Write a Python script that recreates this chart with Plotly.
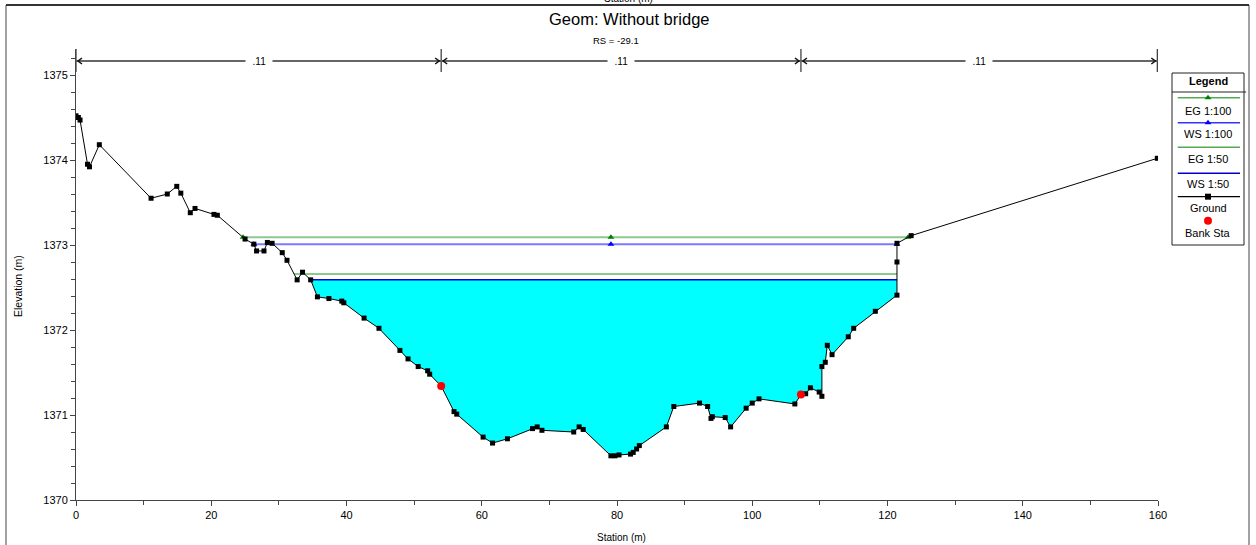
import numpy as np
import plotly.graph_objects as go

# ---------------- data ----------------
station = [0.0, 0.35, 0.6, 1.7, 2.0, 3.45, 11.1, 13.5, 14.9, 15.5, 16.9, 17.6, 20.4, 20.9,
           25.0, 26.3, 26.7, 27.8, 28.3, 29.0, 30.5, 31.2, 32.7, 33.5, 34.7, 35.7, 37.4,
           39.3, 39.6, 42.6, 44.8, 47.9, 49.1, 50.6, 52.0, 52.3, 54.0, 55.9, 56.3, 60.2,
           61.6, 63.8, 67.5, 68.2, 68.9, 73.6, 74.4, 75.0, 79.1, 79.7, 80.3, 82.0, 82.4,
           82.9, 83.3, 87.3, 88.4, 92.2, 93.4, 93.9, 94.1, 96.0, 96.8, 99.1, 100.0, 101.0,
           106.3, 107.2, 107.9, 108.6, 109.9, 110.3, 110.3, 110.8, 111.1, 111.8, 114.2,
           115.0, 118.2, 121.4, 121.4, 121.4, 123.5, 159.9]
elevation = [1374.52, 1374.50, 1374.47, 1373.95, 1373.92, 1374.18, 1373.55, 1373.60, 1373.69,
             1373.61, 1373.38, 1373.43, 1373.36, 1373.35, 1373.07, 1373.01, 1372.93, 1372.93,
             1373.03, 1373.02, 1372.91, 1372.82, 1372.59, 1372.68, 1372.59, 1372.39, 1372.37,
             1372.34, 1372.32, 1372.14, 1372.02, 1371.76, 1371.66, 1371.57, 1371.52, 1371.48,
             1371.34, 1371.04, 1371.01, 1370.74, 1370.67, 1370.72, 1370.84, 1370.86, 1370.82,
             1370.80, 1370.86, 1370.83, 1370.52, 1370.52, 1370.53, 1370.54, 1370.56, 1370.60,
             1370.64, 1370.86, 1371.10, 1371.14, 1371.10, 1370.96, 1370.98, 1370.97, 1370.86,
             1371.08, 1371.14, 1371.19, 1371.13, 1371.24, 1371.25, 1371.32, 1371.27, 1371.22,
             1371.57, 1371.62, 1371.82, 1371.71, 1371.92, 1372.02, 1372.22, 1372.41, 1372.80,
             1373.02, 1373.11, 1374.02]
bank_station = [54.0, 107.2]
bank_elevation = [1371.34, 1371.24]

eg_100 = 1373.09
ws_100 = 1373.01
eg_50 = 1372.66
ws_50 = 1372.59

n_breaks = [0.0, 54.0, 107.2, 159.9]
n_labels = [".11", ".11", ".11"]

title_text = "Geom: Without bridge"
rs_text = "RS = -29.1"
x_title = "Station (m)"
y_title = "Elevation (m)"
x_ticks = [0, 20, 40, 60, 80, 100, 120, 140, 160]
y_ticks = [1370, 1371, 1372, 1373, 1374, 1375]
legend_names = ["EG 1:100", "WS 1:100", "EG 1:50", "WS 1:50", "Ground", "Bank Sta"]

# ---------------- layout helpers ----------------
W, H = 1256, 545
ML, MR, MT, MB = 76, 10, 49, 45
PW, PH = W - ML - MR, H - MT - MB
FONT = "Liberation Sans, Arial, sans-serif"


def px(x):
    return (x - ML) / PW


def py(y):
    return (H - MB - y) / PH


xs = np.array(station)
gs = np.array(elevation)


def wet_extent(E):
    left = right = None
    li = ri = 0
    for i in range(len(xs) - 1):
        if gs[i] >= E and gs[i + 1] < E:
            left = xs[i] + (gs[i] - E) / (gs[i] - gs[i + 1]) * (xs[i + 1] - xs[i])
            li = i
            break
    for i in range(len(xs) - 2, -1, -1):
        if gs[i] < E and gs[i + 1] >= E:
            right = xs[i] + (E - gs[i]) / (gs[i + 1] - gs[i]) * (xs[i + 1] - xs[i])
            ri = i
            break
    return left, li, right, ri


fig = go.Figure()

# water fill for WS 1:50
l50, li50, r50, ri50 = wet_extent(ws_50)
fx = [l50] + list(xs[li50 + 1:ri50 + 1]) + [r50]
fy = [ws_50] + list(np.minimum(gs[li50 + 1:ri50 + 1], ws_50)) + [ws_50]
fig.add_trace(go.Scatter(x=fx, y=fy, fill="toself", fillcolor="#00FFFF", mode="lines",
                         line=dict(width=0), hoverinfo="skip", showlegend=False))

thalweg_x = float(xs[int(np.argmin(gs))])

# EG 1:50
le, _, re, _ = wet_extent(eg_50)
fig.add_trace(go.Scatter(x=[le, re], y=[eg_50, eg_50], mode="lines",
                         line=dict(color="#8cc98c", width=2), showlegend=False))
# EG 1:100
le, _, re, _ = wet_extent(eg_100)
fig.add_trace(go.Scatter(x=[le, thalweg_x, re], y=[eg_100] * 3, mode="lines+markers",
                         line=dict(color="#8cc98c", width=2),
                         marker=dict(symbol="triangle-up", size=6, color="#008000"),
                         showlegend=False))
# WS 1:100
lw, _, rw, _ = wet_extent(ws_100)
fig.add_trace(go.Scatter(x=[lw, thalweg_x, rw], y=[ws_100] * 3, mode="lines+markers",
                         line=dict(color="#7b7bff", width=2),
                         marker=dict(symbol="triangle-up", size=6, color="#0000ff"),
                         showlegend=False))
# WS 1:50
fig.add_trace(go.Scatter(x=[l50, r50], y=[ws_50, ws_50], mode="lines",
                         line=dict(color="#0000dd", width=1.5), showlegend=False))
# Ground
fig.add_trace(go.Scatter(x=station, y=elevation, mode="lines+markers",
                         line=dict(color="black", width=1),
                         marker=dict(symbol="square", size=5, color="black"),
                         showlegend=False))
# Bank stations
fig.add_trace(go.Scatter(x=bank_station, y=bank_elevation, mode="markers",
                         marker=dict(symbol="circle", size=8, color="#ff0000"),
                         showlegend=False))

# ---------------- custom legend (axes x2/y2) ----------------
leg_line_y = [0.856, 0.711, 0.568, 0.417, 0.281]
leg_text_y = [0.781, 0.645, 0.498, 0.355, 0.213, 0.068]
leg_styles = [
    dict(color="#55aa55", width=1.5, marker="triangle-up", mcolor="#008000"),
    dict(color="#3333ff", width=1.5, marker="triangle-up", mcolor="#0000ff"),
    dict(color="#55aa55", width=1.5, marker=None, mcolor=None),
    dict(color="#0000cc", width=1.5, marker=None, mcolor=None),
    dict(color="black", width=1.2, marker="square", mcolor="black"),
]
for yv, st in zip(leg_line_y, leg_styles):
    fig.add_trace(go.Scatter(x=[0.08, 0.945], y=[yv, yv], mode="lines", xaxis="x2", yaxis="y2",
                             line=dict(color=st["color"], width=st["width"]), showlegend=False,
                             hoverinfo="skip"))
    if st["marker"]:
        fig.add_trace(go.Scatter(x=[0.5], y=[yv], mode="markers", xaxis="x2", yaxis="y2",
                                 marker=dict(symbol=st["marker"], size=6, color=st["mcolor"]),
                                 showlegend=False, hoverinfo="skip"))
fig.add_trace(go.Scatter(x=[0.5], y=[0.141], mode="markers", xaxis="x2", yaxis="y2",
                         marker=dict(symbol="circle", size=8, color="#ff0000"),
                         showlegend=False, hoverinfo="skip"))


def ann(**kw):
    d = dict(showarrow=False, xanchor="center", yanchor="middle")
    d.update(kw)
    return d


annotations = []
annotations.append(ann(x=0.5, y=0.951, xref="x2", yref="y2", text="<b>Legend</b>",
                       font=dict(family=FONT, size=11, color="black")))
for name, yv in zip(legend_names, leg_text_y):
    annotations.append(ann(x=0.5, y=yv, xref="x2", yref="y2", text=name,
                           font=dict(family=FONT, size=11, color="black")))

shapes = []
shapes.append(dict(type="rect", xref="x2 domain", yref="y2 domain", x0=0, x1=1, y0=0, y1=1,
                   line=dict(color="#222", width=1)))
shapes.append(dict(type="line", xref="x2 domain", yref="y2", x0=0, x1=1.03, y0=0.8895, y1=0.8895,
                   line=dict(color="#222", width=1)))

# ---------------- Manning's n bar ----------------
ny = py(61)
for xb in n_breaks:
    shapes.append(dict(type="line", xref="x", yref="paper", x0=xb, x1=xb, y0=py(72), y1=py(49),
                       line=dict(color="#333", width=1.2)))
for i, lab in enumerate(n_labels):
    a, b = n_breaks[i], n_breaks[i + 1]
    shapes.append(dict(type="line", xref="x", yref="paper", x0=a, x1=b, y0=ny, y1=ny,
                       line=dict(color="#666", width=2)))
    shapes.append(dict(type="path", xref="x", yref="paper", xsizemode="pixel", ysizemode="pixel",
                       xanchor=a, yanchor=ny, path="M 6,3 L 2,0 L 6,-3",
                       line=dict(color="#111", width=1.5)))
    shapes.append(dict(type="path", xref="x", yref="paper", xsizemode="pixel", ysizemode="pixel",
                       xanchor=b, yanchor=ny, path="M -6,3 L -2,0 L -6,-3",
                       line=dict(color="#111", width=1.5)))
    annotations.append(ann(x=(a + b) / 2, y=ny, xref="x", yref="paper",
                           text="&nbsp;&nbsp;" + lab + "&nbsp;&nbsp;",
                           bgcolor="white", borderpad=1,
                           font=dict(family=FONT, size=10, color="black")))

# ---------------- frame and titles ----------------
shapes.append(dict(type="line", xref="paper", yref="paper", x0=px(6), x1=px(6), y0=py(545), y1=py(5),
                   line=dict(color="#444", width=1)))
shapes.append(dict(type="line", xref="paper", yref="paper", x0=px(1249), x1=px(1249), y0=py(545),
                   y1=py(5), line=dict(color="#444", width=1)))
shapes.append(dict(type="line", xref="paper", yref="paper", x0=px(6), x1=px(1249), y0=py(5), y1=py(5),
                   line=dict(color="#333", width=2)))

annotations.append(ann(x=px(628), y=py(-2), xref="paper", yref="paper", text=x_title,
                       font=dict(family=FONT, size=10, color="black")))
annotations.append(ann(x=px(629), y=py(19), xref="paper", yref="paper", text=title_text,
                       font=dict(family=FONT, size=16.5, color="black")))
annotations.append(ann(x=px(616), y=py(41), xref="paper", yref="paper", text=rs_text,
                       font=dict(family=FONT, size=9.5, color="black")))
annotations.append(ann(x=px(621), y=py(537), xref="paper", yref="paper", text=x_title,
                       font=dict(family=FONT, size=10, color="black")))
annotations.append(ann(x=px(18), y=py(286), xref="paper", yref="paper", text=y_title,
                       textangle=-90, font=dict(family=FONT, size=10.5, color="black")))

y_top = 1370 + 5 * (500 - 49) / (500 - 75)

fig.update_layout(
    template="none",
    width=W, height=H, autosize=False,
    margin=dict(l=ML, r=MR, t=MT, b=MB, pad=0, autoexpand=False),
    paper_bgcolor="white", plot_bgcolor="white",
    font=dict(family=FONT, size=11, color="black"),
    showlegend=False,
    xaxis=dict(domain=[0, px(1158)], range=[0, 160], showgrid=False, zeroline=False,
               automargin=False,
               showline=True, linecolor="#444", linewidth=1, ticks="outside", ticklen=5,
               tickcolor="#444", tickvals=x_ticks, tickfont=dict(size=11),
               minor=dict(dtick=10, tick0=0, ticks="outside", ticklen=4, tickcolor="#444")),
    yaxis=dict(range=[1370, y_top], showgrid=False, zeroline=False, showline=True,
               automargin=False,
               linecolor="#444", linewidth=1, ticks="outside", ticklen=5, tickcolor="#444",
               tickvals=y_ticks, tickfont=dict(size=11),
               minor=dict(dtick=0.2, tick0=1370, ticks="outside", ticklen=4, tickcolor="#444")),
    xaxis2=dict(domain=[px(1172), px(1244)], range=[0, 1], visible=False, anchor="y2",
                fixedrange=True, automargin=False),
    yaxis2=dict(domain=[py(245), py(73)], range=[0, 1], visible=False, anchor="x2",
                fixedrange=True, automargin=False),
    shapes=shapes,
    annotations=annotations,
)

fig.write_html("out.html", config={"responsive": False},
               post_script="document.body.style.margin='0';document.body.style.overflow='hidden';")
